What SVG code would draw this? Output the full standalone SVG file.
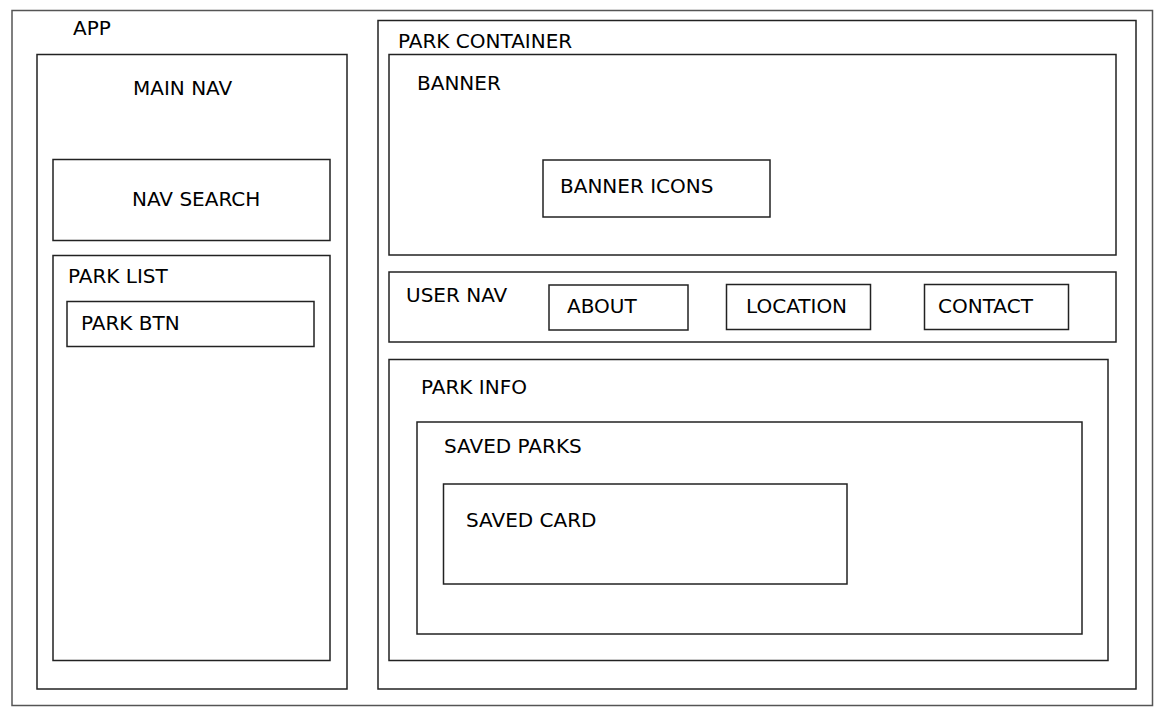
<svg xmlns="http://www.w3.org/2000/svg" width="1165" height="714" viewBox="0 0 1165 714">
  <style>
    .box { fill: none; stroke: #222; stroke-width: 1.5; }
    .outer { fill: none; stroke: #555; stroke-width: 1.5; }
    .lbl { font-family: "DejaVu Sans", Verdana, sans-serif; font-size: 20px; fill: #000; }
  </style>
  <rect width="1165" height="714" fill="#fff"/>

  <g id="app">
    <rect class="outer" x="12" y="10.5" width="1140.5" height="695"/>
    <text class="lbl" x="73" y="35">APP</text>
  </g>

  <g id="main-nav">
    <rect class="box" x="37" y="54.5" width="310" height="634.5"/>
    <text class="lbl" x="133" y="95">MAIN NAV</text>
  </g>

  <g id="nav-search">
    <rect class="box" x="53" y="159.5" width="277" height="81"/>
    <text class="lbl" x="132" y="206">NAV SEARCH</text>
  </g>

  <g id="park-list">
    <rect class="box" x="53" y="255.5" width="277" height="405"/>
    <text class="lbl" x="68" y="283">PARK LIST</text>
  </g>

  <g id="park-btn">
    <rect class="box" x="67" y="301.5" width="247" height="45"/>
    <text class="lbl" x="81" y="330">PARK BTN</text>
  </g>

  <g id="park-container">
    <rect class="box" x="378" y="20.5" width="758" height="668.5"/>
    <text class="lbl" x="398" y="48">PARK CONTAINER</text>
  </g>

  <g id="banner">
    <rect class="box" x="389" y="54.5" width="727" height="200.5"/>
    <text class="lbl" x="417" y="90">BANNER</text>
  </g>

  <g id="banner-icons">
    <rect class="box" x="543" y="160" width="227" height="57"/>
    <text class="lbl" x="560" y="193">BANNER ICONS</text>
  </g>

  <g id="user-nav">
    <rect class="box" x="389" y="272" width="727" height="70"/>
    <text class="lbl" x="406" y="302">USER NAV</text>
  </g>

  <g id="about">
    <rect class="box" x="549" y="285" width="139" height="45"/>
    <text class="lbl" x="567" y="313">ABOUT</text>
  </g>

  <g id="location">
    <rect class="box" x="726.5" y="284.5" width="144" height="45"/>
    <text class="lbl" x="746" y="313">LOCATION</text>
  </g>

  <g id="contact">
    <rect class="box" x="924.5" y="284.5" width="144" height="45"/>
    <text class="lbl" x="938" y="313">CONTACT</text>
  </g>

  <g id="park-info">
    <rect class="box" x="389" y="359.5" width="719" height="301"/>
    <text class="lbl" x="421" y="394">PARK INFO</text>
  </g>

  <g id="saved-parks">
    <rect class="box" x="417" y="422" width="665" height="212"/>
    <text class="lbl" x="444" y="453">SAVED PARKS</text>
  </g>

  <g id="saved-card">
    <rect class="box" x="443.5" y="484" width="403.5" height="100"/>
    <text class="lbl" x="466" y="527">SAVED CARD</text>
  </g>

  <g id="connectors"/>
</svg>
